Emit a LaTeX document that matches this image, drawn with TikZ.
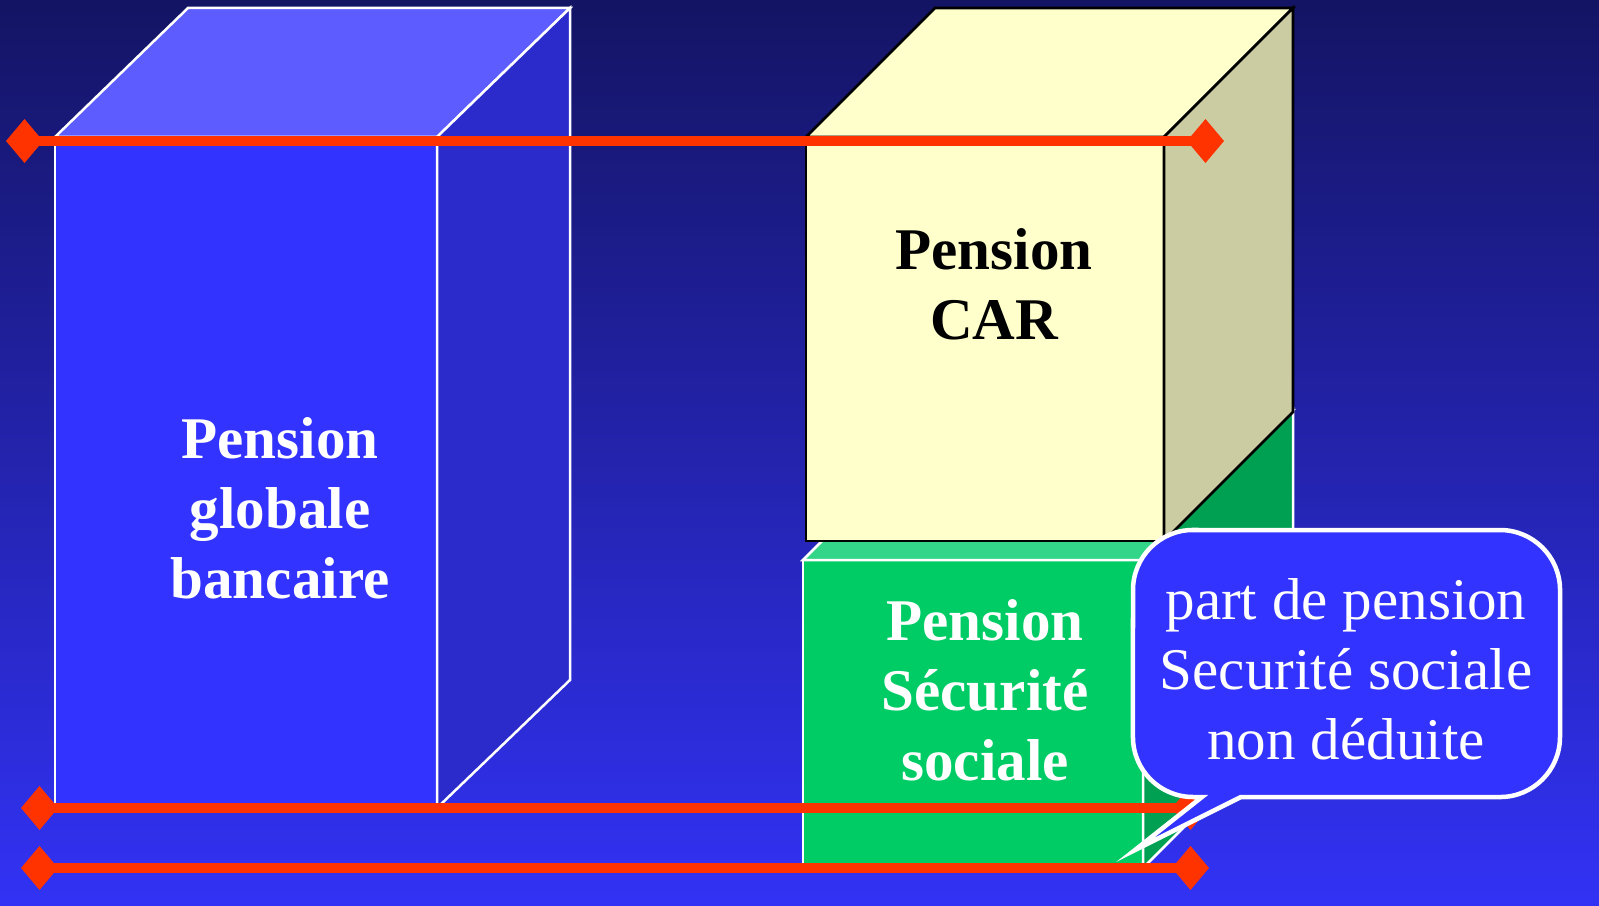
\documentclass[tikz,border=0pt]{standalone}
\usepackage{fontspec}
\setmainfont{Liberation Serif}
\usepackage{tikz}
\usetikzlibrary{arrows.meta}

\definecolor{bgtop}{RGB}{20,20,100}
\definecolor{bgbot}{RGB}{50,50,245}
\definecolor{frontblue}{RGB}{51,51,255}
\definecolor{topblue}{RGB}{92,92,255}
\definecolor{sideblue}{RGB}{43,43,204}
\definecolor{frontyellow}{RGB}{255,255,204}
\definecolor{sideyellow}{RGB}{204,204,163}
\definecolor{frontgreen}{RGB}{0,204,102}
\definecolor{topgreen}{RGB}{51,214,136}
\definecolor{sidegreen}{RGB}{0,160,82}
\definecolor{payred}{RGB}{255,51,0}

\begin{document}
\begin{tikzpicture}[x=0.01cm, y=0.01cm,
                    whiteedge/.style={draw=white, line width=0.025cm},
                    blackedge/.style={draw=black, line width=0.028cm},
                    boxtext/.style={font=\bfseries\fontsize{16.8}{19.9}\selectfont, align=center},
                    payline/.style={draw=payred, line width=0.105cm,
                        {Diamond[length=0.37cm,width=0.44cm]}-{Diamond[length=0.37cm,width=0.44cm]}},
                    bubble/.style={draw=white, line width=0.045cm, fill=frontblue}]
    % Background
    \useasboundingbox (0,0) rectangle (1599,905);
    \fill[top color=bgtop, bottom color=bgbot] (0,0) rectangle (1599,905);

    % Pension globale bancaire
    \filldraw[whiteedge, fill=frontblue] (55,97) rectangle (437,768);
    \filldraw[whiteedge, fill=topblue] (55,768) -- (188,897) -- (570,897) -- (437,768) -- cycle;
    \filldraw[whiteedge, fill=sideblue] (437,768) -- (570,897) -- (570,225) -- (437,97) -- cycle;
    \node[boxtext, text=white] (globale) at (280,397) {Pension\\globale\\bancaire};

    % Pension Securite sociale
    \filldraw[whiteedge, fill=frontgreen] (803,37) rectangle (1143,345);
    \filldraw[whiteedge, fill=topgreen] (803,345) -- (953,495) -- (1293,495) -- (1143,345) -- cycle;
    \filldraw[whiteedge, fill=sidegreen] (1143,345) -- (1293,495) -- (1293,187) -- (1143,37) -- cycle;
    \node[boxtext, text=white] (secu) at (985,215) {Pension\\Sécurité\\sociale};

    % Pension CAR
    \filldraw[blackedge, fill=frontyellow] (806,364) rectangle (1164,768);
    \filldraw[blackedge, fill=frontyellow] (806,768) -- (935,897) -- (1293,897) -- (1164,768) -- cycle;
    \filldraw[blackedge, fill=sideyellow] (1164,768) -- (1293,897) -- (1293,493) -- (1164,364) -- cycle;
    \node[boxtext, text=black] (car) at (994,621) {Pension\\CAR};

    % Levels
    \coordinate (topL) at (6,764);
    \coordinate (topR) at (1224,764);
    \coordinate (midL) at (21,97);
    \coordinate (midR) at (1209,97);
    \coordinate (lowL) at (21,37);
    \coordinate (lowR) at (1209,37);
    \draw[payline] (topL) -- (topR);
    \draw[payline] (midL) -- (midR);
    \draw[payline] (lowL) -- (lowR);

    % Callout
    \coordinate (tip) at (1135,55);
    \filldraw[bubble] (1193,375) -- (1500,375) arc[start angle=90, end angle=0, radius=0.6cm]
        -- (1560,168) arc[start angle=0, end angle=-90, radius=0.6cm]
        -- (1241,108) -- (tip) -- (1202,108) -- (1193,108) arc[start angle=270, end angle=180, radius=0.6cm]
        -- (1133,315) arc[start angle=180, end angle=90, radius=0.6cm] -- cycle;
    \node[text=white, font=\fontsize{16.8}{19.9}\selectfont, align=center] (note) at (1346,236)
        {part de pension\\Securité sociale\\non déduite};
\end{tikzpicture}
\end{document}
